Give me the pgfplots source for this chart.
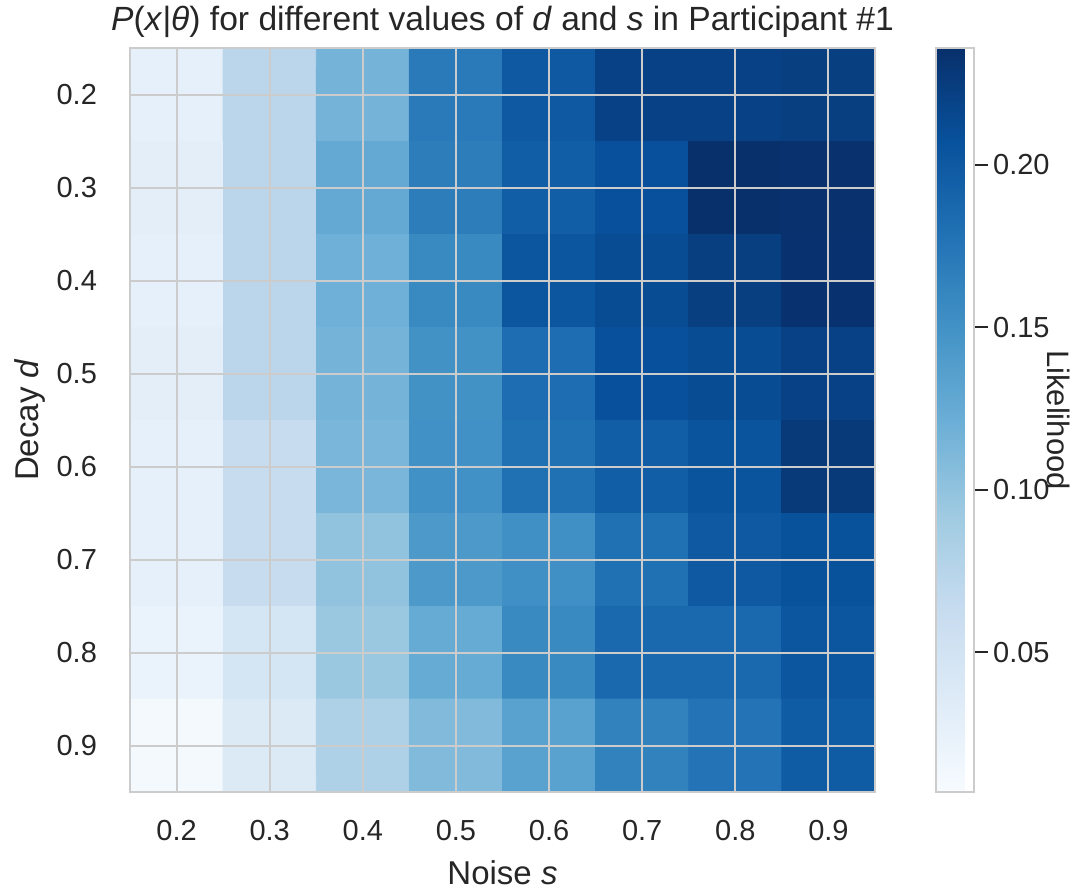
\documentclass[border=0pt]{standalone}
\usepackage{pgfplots}
\pgfplotsset{compat=1.18}
\usepackage{fontspec}
\setmainfont{Liberation Sans}
\definecolor{txt}{RGB}{38,38,38}
\definecolor{frame}{RGB}{204,204,204}

% likelihood P(x|theta) over decay d (rows) and noise s (columns)
\pgfplotstableread{
s   d   L
0.2 0.2 0.026
0.3 0.2 0.072
0.4 0.2 0.116
0.5 0.2 0.171
0.6 0.2 0.200
0.7 0.2 0.221
0.8 0.2 0.221
0.9 0.2 0.223
0.2 0.3 0.030
0.3 0.3 0.072
0.4 0.3 0.127
0.5 0.3 0.168
0.6 0.3 0.196
0.7 0.3 0.208
0.8 0.3 0.236
0.9 0.3 0.235
0.2 0.4 0.026
0.3 0.4 0.072
0.4 0.4 0.120
0.5 0.4 0.157
0.6 0.4 0.203
0.7 0.4 0.212
0.8 0.4 0.223
0.9 0.4 0.234
0.2 0.5 0.030
0.3 0.5 0.072
0.4 0.5 0.116
0.5 0.5 0.150
0.6 0.5 0.182
0.7 0.5 0.208
0.8 0.5 0.212
0.9 0.5 0.221
0.2 0.6 0.026
0.3 0.6 0.063
0.4 0.6 0.113
0.5 0.6 0.151
0.6 0.6 0.180
0.7 0.6 0.196
0.8 0.6 0.205
0.9 0.6 0.228
0.2 0.7 0.026
0.3 0.7 0.063
0.4 0.7 0.100
0.5 0.7 0.143
0.6 0.7 0.152
0.7 0.7 0.180
0.8 0.7 0.200
0.9 0.7 0.207
0.2 0.8 0.022
0.3 0.8 0.047
0.4 0.8 0.095
0.5 0.8 0.125
0.6 0.8 0.157
0.7 0.8 0.187
0.8 0.8 0.187
0.9 0.8 0.203
0.2 0.9 0.010
0.3 0.9 0.038
0.4 0.9 0.081
0.5 0.9 0.109
0.6 0.9 0.134
0.7 0.9 0.164
0.8 0.9 0.177
0.9 0.9 0.198
}\liketable

\begin{document}
\begin{tikzpicture}[font=\fontsize{14.5}{17}\selectfont]
\useasboundingbox (-65pt,-51pt) rectangle (472.5pt,396pt);
\begin{axis}[
  at={(0,0)}, anchor=south west,
  scale only axis, width=372.5pt, height=372pt,
  xmin=0.15, xmax=0.95, ymin=0.15, ymax=0.95,
  y dir=reverse,
  axis on top,
  xtick={0.2,0.3,0.4,0.5,0.6,0.7,0.8,0.9},
  ytick={0.2,0.3,0.4,0.5,0.6,0.7,0.8,0.9},
  xticklabels={0.2,0.3,0.4,0.5,0.6,0.7,0.8,0.9},
  yticklabels={0.2,0.3,0.4,0.5,0.6,0.7,0.8,0.9},
  /pgf/number format/assume math mode=true,
  major tick length=0pt,
  grid=major,
  major grid style={frame, line width=1pt},
  axis line style={frame, line width=1.25pt},
  tick label style={txt, font=\fontsize{14.5}{17}\selectfont},
  xticklabel style={yshift=-10.5pt},
  yticklabel style={xshift=-13pt},
  xlabel={Noise \textit{s}},
  ylabel={Decay \textit{d}},
  label style={txt, font=\fontsize{16.5}{19}\selectfont},
  xlabel style={at={(axis description cs:0.5,-0.109)}, anchor=center},
  ylabel style={at={(axis description cs:-0.134,0.5)}, anchor=center},
  title={\textit{P}(\textit{x}|\textit{θ}) for different values of \textit{d} and \textit{s} in Participant \#1},
  title style={txt, font=\fontsize{16.8}{19}\selectfont, at={(axis description cs:0.5,1)}, anchor=center, yshift=7pt},
  colormap={blues}{rgb255=(247,251,255) rgb255=(222,235,247) rgb255=(198,219,239) rgb255=(158,202,225) rgb255=(107,174,214) rgb255=(66,146,198) rgb255=(33,113,181) rgb255=(8,81,156) rgb255=(8,48,107)},
  point meta min=0.007, point meta max=0.236,
  colorbar,
  colorbar style={
    at={(parent axis.north east)}, anchor=north west, xshift=22pt,
    width=19pt, height=372pt,
    y dir=normal,
    ytick={0.05,0.1,0.15,0.2},
    yticklabels={0.05,0.10,0.15,0.20},
    axis line style={frame, line width=1.25pt},
    major tick length=7pt,
    tick align=outside,
    ytick pos=right,
    tick style={txt, line width=1pt},
    yticklabel style={txt, font=\fontsize{14.5}{17}\selectfont, xshift=-1pt},
    grid=none,
    ylabel={Likelihood},
    ylabel style={txt, font=\fontsize{15.5}{18}\selectfont, at={(axis description cs:3.22,0.5)}, anchor=center, rotate=180},
  },
]
\addplot[matrix plot*, mesh/cols=8, point meta=explicit]
  table[x=s, y=d, meta=L] {\liketable};
\end{axis}
\end{tikzpicture}
\end{document}
